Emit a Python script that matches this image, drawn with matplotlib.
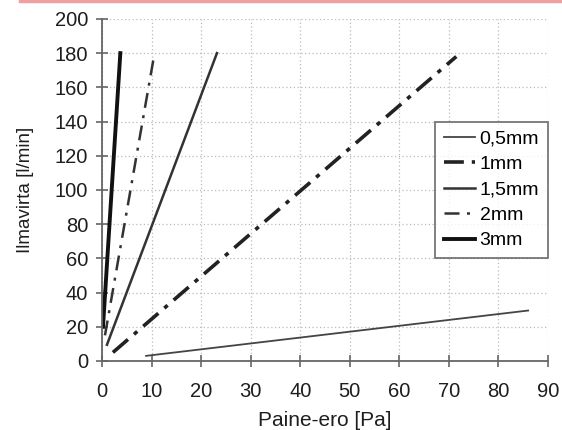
import matplotlib
matplotlib.use('Agg')
from matplotlib import pyplot
from matplotlib.lines import Line2D

pyplot.rcParams['font.family'] = ['Liberation Sans', 'DejaVu Sans']

# pressure difference [Pa] and airflow [l/min], endpoints
labels = ['0,5mm', '1mm', '1,5mm', '2mm', '3mm']
x_05 = [8.9, 86.0]
y_05 = [3.0, 29.5]
x_1 = [2.2, 71.5]
y_1 = [5.0, 178.0]
x_15 = [1.0, 23.2]
y_15 = [9.5, 180.0]
x_2 = [0.6, 10.6]
y_2 = [15.0, 180.0]
x_3 = [0.2, 3.7]
y_3 = [20.0, 180.0]

xticks = list(range(0, 100, 10))
yticks = list(range(0, 220, 20))

fig = pyplot.figure(figsize=(5.62, 4.30), dpi=100)
ax = fig.add_axes([0.1815, 0.1605, 0.7935, 0.7955])

ax.plot(x_05, y_05, c='#444444', lw=1.3, label=labels[0])
ax.plot(x_1, y_1, c='#222222', lw=2.6, dashes=(5.5, 2.2, 1.2, 2.2), label=labels[1])
ax.plot(x_15, y_15, c='#333333', lw=1.8, label=labels[2])
ax.plot(x_2, y_2, c='#333333', lw=1.8, dashes=(6, 3, 1.2, 3), label=labels[3])
ax.plot(x_3, y_3, c='#111111', lw=2.8, label=labels[4])

ax.set_xlim(0, 90)
ax.set_ylim(0, 200)
ax.set_xticks(xticks)
ax.set_yticks(yticks)
ax.grid(True, ls=(0, (1, 2)), c='#bbbbbb', lw=0.9)
for s in ['top', 'right']:
    ax.spines[s].set_visible(False)
for s in ['left', 'bottom']:
    ax.spines[s].set_color('#666666')
    ax.spines[s].set_linewidth(1.3)
ax.tick_params(direction='inout', length=8, width=1.2, color='#666666',
               labelsize=14.5, labelcolor='#1e1e1e')
ax.tick_params(axis='x', pad=11)
ax.tick_params(axis='y', pad=6)
ax.set_xlabel('Paine-ero [Pa]', fontsize=15, color='#1e1e1e', labelpad=7.5)
ax.set_ylabel('Ilmavirta [l/min]', fontsize=13.5, color='#1e1e1e', labelpad=15)

leg = ax.legend(loc='upper right', bbox_to_anchor=(1.0, 0.70), fontsize=14,
                frameon=True, fancybox=False, handlelength=1.6,
                handletextpad=0.25, borderpad=0.45, labelspacing=0.4,
                borderaxespad=0)
leg.get_frame().set_edgecolor('#555555')
leg.get_frame().set_linewidth(1.3)

# pink strip at the top edge of the scan
fig.add_artist(Line2D([0.035, 1.0], [0.997, 0.997], color='#f0a0a0', lw=2.5))

fig.savefig('out.png', dpi=100)
